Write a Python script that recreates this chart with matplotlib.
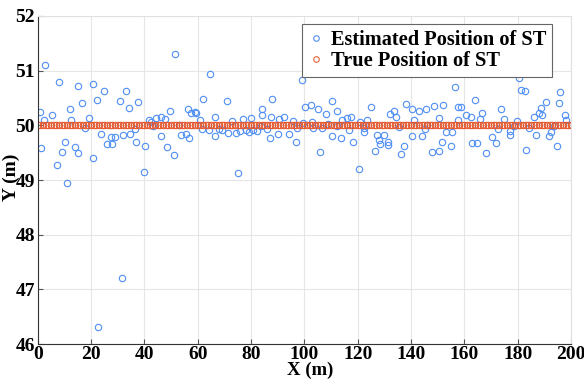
import matplotlib.pyplot as plt

plt.rcParams['font.family'] = ['Liberation Serif', 'DejaVu Serif']
plt.rcParams['font.weight'] = 'bold'

# estimated positions
est_x = [0.8, 1.4, 2.3, 2.8, 5.3, 7.1, 8.1, 9.1, 10.3, 11.1, 12.1, 12.5, 14.1, 15.0, 15.0,
         16.7, 17.7, 19.4, 20.9, 20.9, 22.2, 22.8, 23.7, 24.9, 26.0, 27.4, 27.7, 29.0, 30.9,
         31.5, 32.0,
         33.1, 34.4, 37.8, 34.6, 36.4, 37.0, 40.3, 40.0, 41.8, 42.4, 43.1, 44.4, 46.1, 47.6,
         49.6, 46.4, 48.3, 51.1, 51.4, 53.1, 53.7, 55.5, 56.8, 56.5, 57.4, 58.8, 59.5, 61.0,
         61.5, 61.8, 64.6, 64.4, 66.4, 66.6,
         71.1, 68.0, 69.1, 71.5, 72.8, 74.3, 75.0, 75.8, 77.1, 78.0, 79.2, 80.1, 80.8, 82.2,
         84.1, 84.2, 83.6, 85.8, 87.2, 87.6, 87.8, 90.2, 90.3, 92.2, 94.1, 95.8, 96.8, 97.3,
         99.1, 99.3, 100.4,
         102.4, 105.2, 108.0, 110.5, 112.3, 102.7, 103.3, 106.7, 108.8, 105.7, 110.4, 112.3,
         113.9, 114.2, 116.0, 117.5, 116.8, 118.3, 120.5, 120.9, 122.2, 122.3, 123.3, 124.9,
         126.3, 127.2, 128.0, 128.3, 130.0, 131.3, 131.4, 132.0, 133.5,
         134.5, 135.5, 136.1, 137.5, 138.2, 140.4, 141.1, 140.4, 142.9, 144.2, 145.4, 145.2,
         146.0, 148.4, 147.9, 150.4, 150.5, 151.7, 152.0, 153.2, 155.2, 155.0, 156.5, 157.4,
         158.7, 157.7, 160.6, 162.5, 164.0, 162.7, 164.6, 165.7, 166.6, 168.0,
         170.3, 171.7, 172.6, 173.7, 174.8, 176.9, 177.2, 178.6, 179.8, 180.3, 181.1, 182.6,
         183.1, 184.1, 185.9, 186.8, 187.8, 188.8, 189.2, 190.6, 191.6, 192.4, 193.5, 194.7,
         195.4, 196.0, 197.7, 198.2]
est_y = [50.24, 49.59, 50.10, 51.10, 50.19, 49.27, 50.79, 49.52, 49.70, 48.95, 50.30, 50.10,
         49.60, 50.71, 49.50, 50.41, 49.95, 50.14, 50.76, 49.41, 50.47, 46.31, 49.85, 50.63,
         49.66, 49.79, 49.66, 49.79, 50.45, 47.20, 49.83,
         50.63, 50.32, 50.42, 49.85, 49.94, 49.69, 49.63, 49.15, 50.09, 50.06, 49.98, 50.13,
         50.16, 50.12, 50.27, 49.80, 49.60, 49.45, 51.30, 50.00, 49.82, 49.85, 49.77, 50.29,
         50.22, 50.24, 50.22, 50.10, 49.93, 50.49, 50.94, 49.91, 49.81, 50.15,
         50.44, 49.93, 49.92, 49.86, 50.07, 49.86, 49.12, 49.90, 50.11, 49.91, 49.88, 50.14,
         49.92, 49.90, 50.29, 50.18, 49.99, 49.94, 49.77, 50.16, 50.48, 49.84, 50.11, 50.15,
         49.84, 50.07, 49.70, 49.95, 50.83, 50.05, 50.33,
         50.38, 50.29, 50.20, 50.44, 50.26, 50.06, 49.95, 49.96, 50.03, 49.52, 49.80, 49.98,
         49.77, 50.09, 50.13, 50.15, 49.92, 49.69, 49.21, 50.06, 49.95, 49.88, 50.10, 50.34,
         49.53, 49.82, 49.73, 49.65, 49.82, 49.69, 49.64, 50.21, 50.26,
         50.15, 49.97, 49.48, 49.62, 50.39, 50.30, 50.10, 49.80, 50.27, 49.81, 50.30, 49.94,
         50.01, 50.36, 49.51, 49.53, 50.14, 49.69, 50.37, 49.87, 49.87, 49.63, 50.70, 50.34,
         50.33, 50.09, 50.18, 50.15, 50.47, 49.68, 49.68, 50.12, 50.22, 49.49,
         49.79, 49.68, 49.94, 50.29, 50.11, 49.89, 49.83, 49.98, 50.08, 50.86, 50.64, 50.63,
         49.55, 49.95, 50.15, 49.82, 50.22, 50.31, 50.18, 50.43, 49.80, 49.87, 49.99, 49.62,
         50.40, 50.61, 50.18, 50.10]

# true positions: one per metre along x
true_x = list(range(0, 201))
true_y = [50] * len(true_x)

fig = plt.figure(figsize=(5.84, 3.79), dpi=100)
ax = fig.add_axes([0.0645, 0.092, 0.9135, 0.866])

ax.plot(est_x, est_y, 'o', mfc='none', mec='#4F8FF2', ms=4.6, mew=0.8,
        label='Estimated Position of ST')
ax.plot(true_x, true_y, 'o', mfc='none', mec='#E4572E', ms=4.6, mew=0.75,
        label='True Position of ST')

ax.set_xlim(0, 200)
ax.set_ylim(46, 52)
ax.set_xticks(range(0, 201, 20))
ax.set_yticks(range(46, 53))
ax.grid(True, color='#e6e6e6', lw=0.8)
ax.set_axisbelow(True)

for s in ['top', 'right']:
    ax.spines[s].set_color('#e0e0e0')
for s in ['left', 'bottom']:
    ax.spines[s].set_color('#333333')
    ax.spines[s].set_linewidth(0.8)

ax.tick_params(direction='in', length=3.5, width=0.8, color='#555555',
               labelsize=14, pad=1)
ax.tick_params(axis='y', pad=2)
for lab in ax.get_xticklabels() + ax.get_yticklabels():
    lab.set_fontweight('bold')

ax.set_xlabel('X (m)', fontsize=13.5, fontweight='bold')
ax.set_ylabel('Y (m)', fontsize=14, fontweight='bold')
ax.xaxis.set_label_coords(0.511, -0.052)
ax.yaxis.set_label_coords(-0.034, 0.509)

leg = ax.legend(loc='upper right', bbox_to_anchor=(0.965, 0.976),
                prop={'weight': 'bold', 'size': 14.7}, fancybox=False, framealpha=1,
                edgecolor='#666666', handlelength=0.7, handletextpad=0.4,
                borderpad=0.3, labelspacing=0.05, borderaxespad=0)
leg.get_frame().set_linewidth(0.8)
for h in leg.legend_handles:
    h.set_markersize(4.0)

plt.savefig('out.png', dpi=100)
